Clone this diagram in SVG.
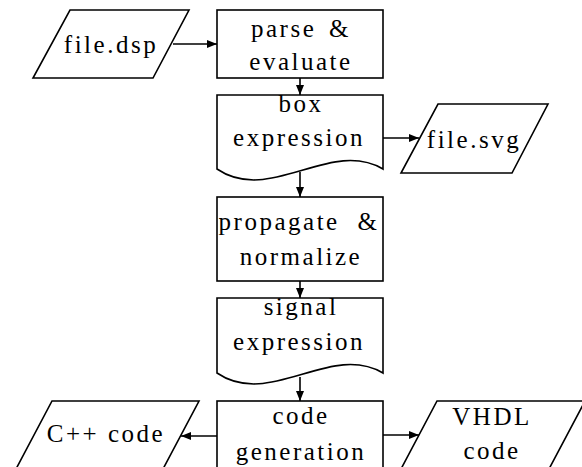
<svg xmlns="http://www.w3.org/2000/svg" width="582" height="467" viewBox="0 0 582 467">
<style>
.s{fill:#fff;stroke:#000;stroke-width:1.6}
.t{font-family:"Liberation Serif","Times New Roman",serif;font-size:25px;letter-spacing:2.5px;fill:#000;text-anchor:middle}
.c{fill:none;stroke:#000;stroke-width:1.6}
</style>
<defs>
<marker id="a" viewBox="0 0 10 10" refX="10" refY="5" markerWidth="10" markerHeight="10" markerUnits="userSpaceOnUse" orient="auto">
<path d="M0,1 L10,5 L0,9 Z" fill="#000"/>
</marker>
</defs>
<rect width="582" height="467" fill="#fff"/>
<g id="filedsp">
<polygon class="s" points="70,10 189,10 153,78 33,78"/>
<text class="t" x="111" y="53">file.dsp</text>
</g>
<g id="parse">
<rect class="s" x="217" y="10" width="166" height="68"/>
<text class="t" x="301" y="37" style="word-spacing:4px">parse &amp;</text>
<text class="t" x="301" y="70">evaluate</text>
</g>
<g id="boxexpr">
<path class="s" d="M217,95 H383 V169 C330,138 270,205 217,169 Z"/>
<text class="t" x="301" y="112">box</text>
<text class="t" x="299" y="146">expression</text>
</g>
<g id="filesvg">
<polygon class="s" points="438,104 548,104 512,173 401,173"/>
<text class="t" x="474" y="148">file.svg</text>
</g>
<g id="propagate">
<rect class="s" x="217" y="197" width="166" height="84"/>
<text class="t" x="299" y="230" style="word-spacing:9px">propagate &amp;</text>
<text class="t" x="301" y="265">normalize</text>
</g>
<g id="signal">
<path class="s" d="M217,298 H383 V373 C330,342 270,409 217,373 Z"/>
<text class="t" x="301" y="315">signal</text>
<text class="t" x="299" y="350">expression</text>
</g>
<g id="codegen">
<rect class="s" x="217" y="401" width="166" height="80"/>
<text class="t" x="301" y="424">code</text>
<text class="t" x="301" y="460">generation</text>
</g>
<g id="cpp">
<polygon class="s" points="52,401 199,401 163,469 16,469"/>
<text class="t" x="106" y="442">C++ code</text>
</g>
<g id="vhdl">
<polygon class="s" points="437,401 585,401 549,469 401,469"/>
<text class="t" x="492" y="425">VHDL</text>
<text class="t" x="492" y="459">code</text>
</g>
<g id="connectors">
<line class="c" x1="173" y1="44" x2="217" y2="44" marker-end="url(#a)"/>
<line class="c" x1="300" y1="78" x2="300" y2="95" marker-end="url(#a)"/>
<line class="c" x1="383" y1="138" x2="419" y2="138" marker-end="url(#a)"/>
<line class="c" x1="300" y1="172" x2="300" y2="197" marker-end="url(#a)"/>
<line class="c" x1="300" y1="281" x2="300" y2="298" marker-end="url(#a)"/>
<line class="c" x1="300" y1="377" x2="300" y2="401" marker-end="url(#a)"/>
<line class="c" x1="217" y1="436" x2="181" y2="436" marker-end="url(#a)"/>
<line class="c" x1="383" y1="435" x2="419" y2="435" marker-end="url(#a)"/>
</g>
</svg>
